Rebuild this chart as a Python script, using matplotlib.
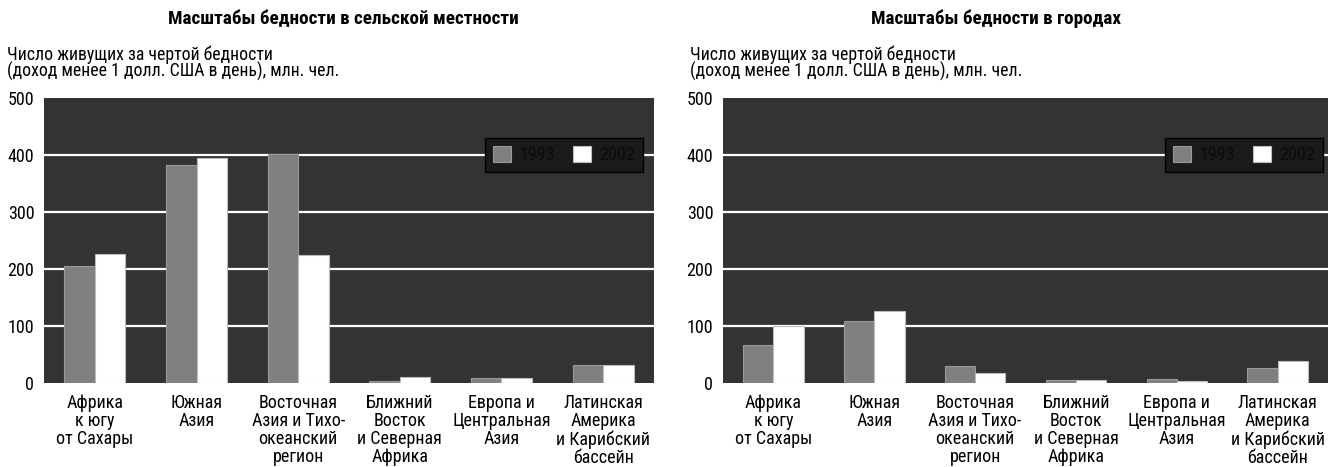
import numpy as np
import matplotlib.pyplot as plt

plt.rcParams['font.family'] = ['Roboto Condensed', 'DejaVu Sans']

regions = ["Африка\nк югу\nот Сахары", "Южная\nАзия", "Восточная\nАзия и Тихо-\nокеанский\nрегион",
           "Ближний\nВосток\nи Северная\nАфрика", "Европа и\nЦентральная\nАзия",
           "Латинская\nАмерика\nи Карибский\nбассейн"]
years = ["1993", "2002"]

rural_1993 = [206, 383, 402, 4, 8, 32]
rural_2002 = [227, 395, 224, 10, 9, 31]
urban_1993 = [67, 108, 29, 5, 7, 26]
urban_2002 = [100, 126, 17, 5, 4, 38]

titles = ["Масштабы бедности в сельской местности", "Масштабы бедности в городах"]
ylabel = "Число живущих за чертой бедности\n(доход менее 1 долл. США в день), млн. чел."
yticks = [0, 100, 200, 300, 400, 500]

fig = plt.figure(figsize=(13.28, 4.67), dpi=100)
ax1 = fig.add_axes([44/1328, 84/467, 610/1328, 285/467])
ax2 = fig.add_axes([723/1328, 84/467, 605/1328, 285/467])

x = np.arange(len(regions))
w = 0.3
panels = [(ax1, rural_1993, rural_2002, titles[0], 343/1328, 7/1328, 0.982),
          (ax2, urban_1993, urban_2002, titles[1], 0.75, 690/1328, 0.992)]

for ax, a, b, title, tx, lx, legx in panels:
    ax.set_facecolor('#333333')
    ax.bar(x - w/2, a, w, color='#808080', edgecolor='#999999', linewidth=0.8, label=years[0], zorder=3)
    ax.bar(x + w/2, b, w, color='white', edgecolor='#bbbbbb', linewidth=0.8, label=years[1], zorder=3)
    ax.set_xlim(-0.5, 5.5)
    ax.set_ylim(0, 500)
    ax.set_yticks(yticks)
    ax.set_xticks(x)
    ax.set_xticklabels(regions, fontsize=13, linespacing=1.0)
    ax.tick_params(axis='both', length=0, labelsize=13)
    ax.tick_params(axis='y', pad=7)
    ax.tick_params(axis='x', pad=8)
    for yv in yticks[1:-1]:
        ax.axhline(yv, color='white', linewidth=1.6, zorder=1)
    for s in ax.spines.values():
        s.set_visible(False)
    leg = ax.legend(loc='center right', bbox_to_anchor=(legx, 0.80), ncol=2, fontsize=13,
                    frameon=True, fancybox=False, handlelength=1.0, handleheight=1.0,
                    columnspacing=1.0, handletextpad=0.45, borderpad=0.45, borderaxespad=0)
    leg.get_frame().set_facecolor('#1a1a1a')
    leg.get_frame().set_edgecolor('black')
    leg.get_frame().set_alpha(1)
    for t in leg.get_texts():
        t.set_color('#0c0c0c')
    fig.text(tx, 1 - 19/467, title, ha='center', va='center', fontsize=13.8, fontweight='bold')
    fig.text(lx, 1 - 45/467, ylabel, ha='left', va='top', fontsize=12.8, linespacing=0.92)

fig.savefig('out.png', dpi=100)
